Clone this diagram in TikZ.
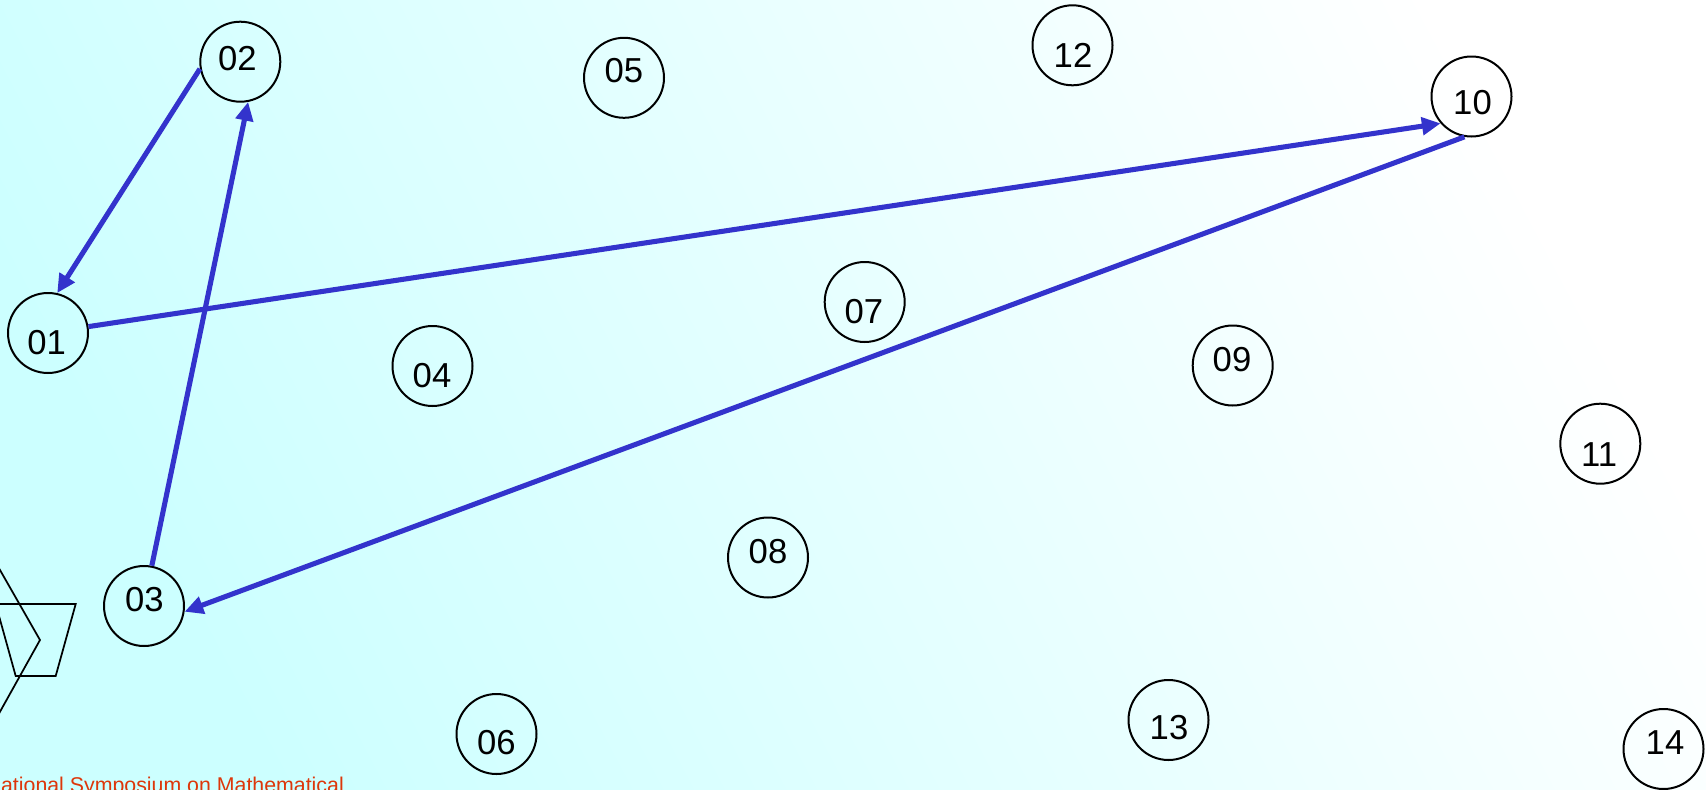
\documentclass[tikz,border=0pt]{standalone}
\usepackage{fontspec}
\setmainfont{Liberation Sans}
\usetikzlibrary{arrows.meta}
\definecolor{bgcyan}{RGB}{204,255,255}
\definecolor{arrowblue}{RGB}{51,51,204}
\definecolor{titlered}{RGB}{221,55,10}
\begin{document}
\begin{tikzpicture}[x=0.75pt,y=-0.75pt,
  circ/.style={circle,draw=black,line width=1.5pt,minimum size=60pt,inner sep=0pt},
  lbl/.style={inner sep=0pt,font=\fontsize{26}{30}\selectfont},
  conn/.style={draw=arrowblue,line width=3.8pt,-{Triangle[length=14pt,width=13pt]}},
  shapeline/.style={draw=black,line width=1.3pt,line join=miter}]
\useasboundingbox (0,0) rectangle (1706,789);
\clip (0,0) rectangle (1706,789);
\shade[left color=bgcyan,right color=white,shading angle=118] (0,0) rectangle (1706,789);

% decorative shapes at bottom left
\draw[shapeline] (-4.3,604) -- (75.7,604) -- (55.7,676) -- (15.7,676) -- cycle;
\draw[shapeline] (-20,535) -- (40,640) -- (-20,747.6);

% footer text
\node[anchor=base west,inner sep=0pt,text=titlered,font=\fontsize{16}{19}\selectfont] (foot) at (-11,792.5) {national Symposium on Mathematical};

% circles
\node[circ] (n01) at (48,333) {};
\node[circ] (n02) at (240.3,61.7) {};
\node[circ] (n03) at (144,606) {};
\node[circ] (n04) at (432.5,366) {};
\node[circ] (n05) at (624,77.8) {};
\node[circ] (n06) at (496.5,734) {};
\node[circ] (n07) at (864.7,302) {};
\node[circ] (n08) at (768,557.5) {};
\node[circ] (n09) at (1232.7,365.5) {};
\node[circ] (n10) at (1471.5,96.5) {};
\node[circ] (n11) at (1600.3,443.7) {};
\node[circ] (n12) at (1072.5,45.3) {};
\node[circ] (n13) at (1168.5,720) {};
\node[circ] (n14) at (1663.5,749) {};

% labels
\node[lbl] (t01) at (46.7,343) {01};
\node[lbl] (t02) at (237.5,58.7) {02};
\node[lbl] (t03) at (144.3,599.5) {03};
\node[lbl] (t04) at (432,375.3) {04};
\node[lbl] (t05) at (623.8,70.8) {05};
\node[lbl] (t06) at (496.3,742.5) {06};
\node[lbl] (t07) at (863.8,311.7) {07};
\node[lbl] (t08) at (768,551.3) {08};
\node[lbl] (t09) at (1232,359.2) {09};
\node[lbl] (t10) at (1472.5,102.5) {10};
\node[lbl] (t11) at (1599.2,454.5) {11};
\node[lbl] (t12) at (1073,55) {12};
\node[lbl] (t13) at (1169,728) {13};
\node[lbl] (t14) at (1665,743) {14};

% connectors
\draw[conn] (n02.190) -- (n01.77);
\draw[conn] (n03.79) -- (n02.281);
\draw[conn] (n01.9) -- (n10.221);
\draw[conn] (n10.260) -- (n03.352);
\end{tikzpicture}
\end{document}
